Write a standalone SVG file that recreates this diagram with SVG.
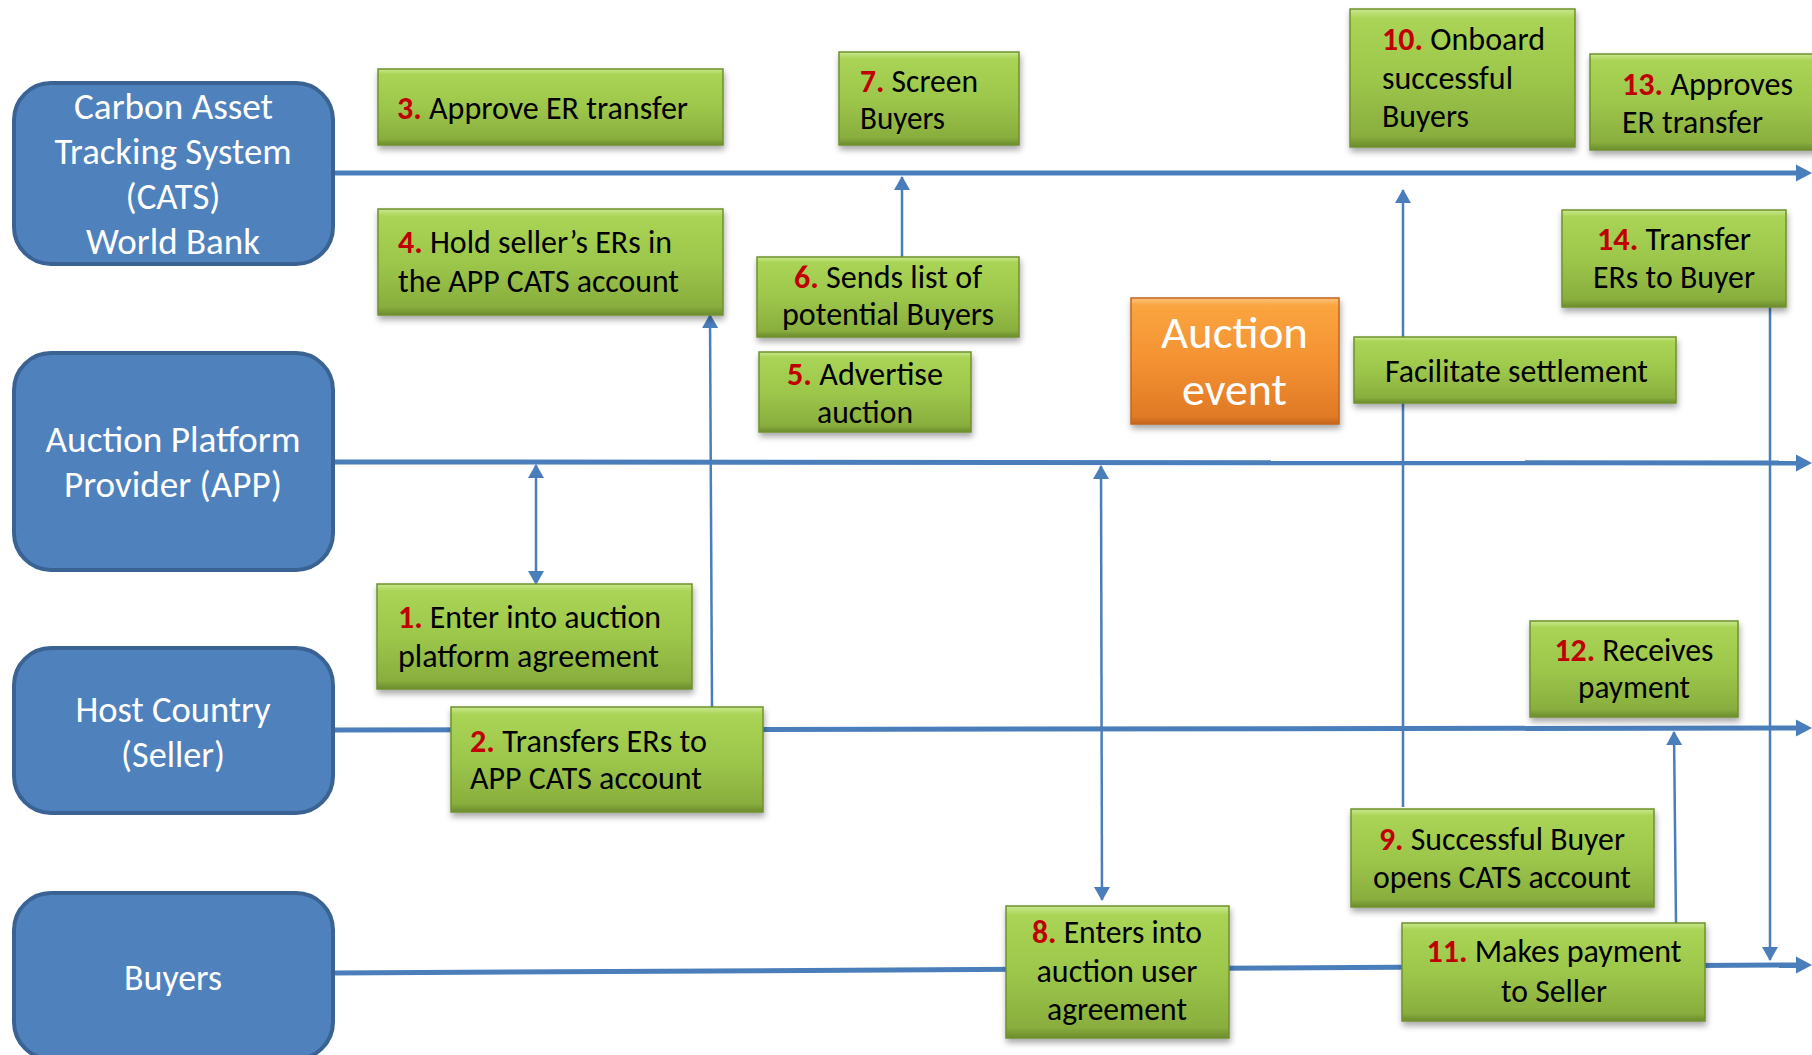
<svg xmlns="http://www.w3.org/2000/svg" width="1812" height="1055" viewBox="0 0 1812 1055">
<defs>
<style>
.lane{fill:#4F81BD;stroke:#3A6394;stroke-width:4}
.lt{font-family:Carlito,Lato,"Liberation Sans",sans-serif;font-size:36px;fill:#FFFFFF}
.gb{fill:url(#gG);stroke:#6F912E;stroke-width:1.5;filter:url(#sh)}
.ob{fill:url(#gO);stroke:#C2661E;stroke-width:1.5;filter:url(#sh)}
.t{font-family:Carlito,Lato,"Liberation Sans",sans-serif;font-size:32px;fill:#000000}
.n{fill:#C00000;font-weight:bold}
.ot{font-family:Carlito,Lato,"Liberation Sans",sans-serif;font-size:46px;fill:#FFFFFF}
.ll{stroke:#4A7EBB;stroke-width:5;fill:none;marker-end:url(#la)}
.cn{stroke:#4A7EBB;stroke-width:2.5;fill:none;marker-end:url(#ca)}
.dbl{marker-start:url(#ca)}
</style>
<linearGradient id="gG" x1="0" y1="0" x2="0" y2="1">
<stop offset="0" stop-color="#C9E88E"/>
<stop offset="0.07" stop-color="#AAD455"/>
<stop offset="0.5" stop-color="#9DC74B"/>
<stop offset="0.92" stop-color="#89AE3E"/>
<stop offset="1" stop-color="#6C8C2C"/>
</linearGradient>
<linearGradient id="gO" x1="0" y1="0" x2="0" y2="1">
<stop offset="0" stop-color="#FCC27E"/>
<stop offset="0.06" stop-color="#FAA53F"/>
<stop offset="0.5" stop-color="#F49132"/>
<stop offset="0.94" stop-color="#E07A26"/>
<stop offset="1" stop-color="#C5661C"/>
</linearGradient>
<filter id="sh" x="-10%" y="-10%" width="120%" height="135%">
<feDropShadow dx="1" dy="4" stdDeviation="3" flood-color="#000" flood-opacity="0.35"/>
</filter>
<marker id="la" markerUnits="userSpaceOnUse" markerWidth="18" markerHeight="18" viewBox="0 0 18 18" refX="4" refY="9" orient="auto">
<path d="M0,0.5 L16,9 L0,17.5 z" fill="#4A7EBB"/>
</marker>
<marker id="ca" markerUnits="userSpaceOnUse" markerWidth="16" markerHeight="16" viewBox="0 0 16 16" refX="13" refY="8" orient="auto-start-reverse">
<path d="M0,0 L14,8 L0,16 z" fill="#4A7EBB"/>
</marker>
</defs>
<rect width="1812" height="1055" fill="#FFFFFF"/>

<g id="connectors">
<line class="ll" x1="333" y1="173" x2="1800" y2="173"/>
<line class="ll" x1="333" y1="462" x2="1800" y2="463"/>
<line class="ll" x1="333" y1="730" x2="1800" y2="728"/>
<line class="ll" x1="333" y1="973" x2="1800" y2="965"/>
<line class="cn dbl" x1="536" y1="465" x2="536" y2="584"/>
<line class="cn" x1="712" y1="707" x2="710" y2="315"/>
<line class="cn" x1="902" y1="257" x2="902" y2="177"/>
<line class="cn dbl" x1="1101" y1="466" x2="1102" y2="900"/>
<line class="cn" x1="1403" y1="807" x2="1403" y2="190"/>
<line class="cn" x1="1770" y1="307" x2="1770" y2="960"/>
<line class="cn" x1="1676" y1="923" x2="1674" y2="732"/>
</g>

<g id="lane-cats">
<rect class="lane" x="14" y="83" width="319" height="181" rx="37"/>
<text class="lt" x="74" y="119" textLength="199" lengthAdjust="spacingAndGlyphs">Carbon Asset</text>
<text class="lt" x="54.5" y="164" textLength="237" lengthAdjust="spacingAndGlyphs">Tracking System</text>
<text class="lt" x="125.5" y="209" textLength="95" lengthAdjust="spacingAndGlyphs">(CATS)</text>
<text class="lt" x="86" y="254" textLength="174" lengthAdjust="spacingAndGlyphs">World Bank</text>
</g>
<g id="lane-app">
<rect class="lane" x="14" y="353" width="319" height="217" rx="37"/>
<text class="lt" x="45.5" y="452" textLength="255" lengthAdjust="spacingAndGlyphs">Auction Platform</text>
<text class="lt" x="64" y="497" textLength="218" lengthAdjust="spacingAndGlyphs">Provider (APP)</text>
</g>
<g id="lane-host">
<rect class="lane" x="14" y="648" width="319" height="165" rx="37"/>
<text class="lt" x="75.5" y="722" textLength="195" lengthAdjust="spacingAndGlyphs">Host Country</text>
<text class="lt" x="121" y="767" textLength="104" lengthAdjust="spacingAndGlyphs">(Seller)</text>
</g>
<g id="lane-buyers">
<rect class="lane" x="14" y="893" width="319" height="166" rx="37"/>
<text class="lt" x="124" y="990" textLength="98" lengthAdjust="spacingAndGlyphs">Buyers</text>
</g>

<g id="step3">
<rect class="gb" x="378" y="69" width="345" height="76"/>
<text class="t" x="397" y="119" textLength="291" lengthAdjust="spacingAndGlyphs"><tspan class="n">3.</tspan> Approve ER transfer</text>
</g>
<g id="step4">
<rect class="gb" x="378" y="209" width="345" height="106"/>
<text class="t" x="398" y="253" textLength="274" lengthAdjust="spacingAndGlyphs"><tspan class="n">4.</tspan> Hold seller’s ERs in</text>
<text class="t" x="398" y="292" textLength="281" lengthAdjust="spacingAndGlyphs">the APP CATS account</text>
</g>
<g id="step7">
<rect class="gb" x="839" y="52" width="180" height="93"/>
<text class="t" x="860" y="92" textLength="118" lengthAdjust="spacingAndGlyphs"><tspan class="n">7.</tspan> Screen</text>
<text class="t" x="860" y="129" textLength="85" lengthAdjust="spacingAndGlyphs">Buyers</text>
</g>
<g id="step10">
<rect class="gb" x="1350" y="9" width="225" height="138"/>
<text class="t" x="1382" y="50" textLength="163" lengthAdjust="spacingAndGlyphs"><tspan class="n">10.</tspan> Onboard</text>
<text class="t" x="1382" y="89" textLength="131" lengthAdjust="spacingAndGlyphs">successful</text>
<text class="t" x="1382" y="127" textLength="87" lengthAdjust="spacingAndGlyphs">Buyers</text>
</g>
<g id="step13">
<rect class="gb" x="1590" y="54" width="228" height="96"/>
<text class="t" x="1622" y="95" textLength="171" lengthAdjust="spacingAndGlyphs"><tspan class="n">13.</tspan> Approves</text>
<text class="t" x="1622" y="133" textLength="141" lengthAdjust="spacingAndGlyphs">ER transfer</text>
</g>
<g id="step6">
<rect class="gb" x="757" y="257" width="262" height="80"/>
<text class="t" x="794" y="288" textLength="188" lengthAdjust="spacingAndGlyphs"><tspan class="n">6.</tspan> Sends list of</text>
<text class="t" x="782" y="325" textLength="212" lengthAdjust="spacingAndGlyphs">potential Buyers</text>
</g>
<g id="step5">
<rect class="gb" x="759" y="352" width="212" height="80"/>
<text class="t" x="787" y="385" textLength="156" lengthAdjust="spacingAndGlyphs"><tspan class="n">5.</tspan> Advertise</text>
<text class="t" x="817" y="423" textLength="96" lengthAdjust="spacingAndGlyphs">auction</text>
</g>
<g id="auction-event">
<rect class="ob" x="1131" y="298" width="208" height="126"/>
<text class="ot" x="1161" y="348" textLength="147" lengthAdjust="spacingAndGlyphs">Auction</text>
<text class="ot" x="1182" y="405" textLength="105" lengthAdjust="spacingAndGlyphs">event</text>
</g>
<g id="facilitate-settlement">
<rect class="gb" x="1354" y="337" width="322" height="66"/>
<text class="t" x="1385" y="382" textLength="263" lengthAdjust="spacingAndGlyphs">Facilitate settlement</text>
</g>
<g id="step14">
<rect class="gb" x="1562" y="210" width="224" height="97"/>
<text class="t" x="1597" y="250" textLength="154" lengthAdjust="spacingAndGlyphs"><tspan class="n">14.</tspan> Transfer</text>
<text class="t" x="1593" y="288" textLength="162" lengthAdjust="spacingAndGlyphs">ERs to Buyer</text>
</g>
<g id="step1">
<rect class="gb" x="377" y="584" width="315" height="105"/>
<text class="t" x="398" y="628" textLength="263" lengthAdjust="spacingAndGlyphs"><tspan class="n">1.</tspan> Enter into auction</text>
<text class="t" x="398" y="667" textLength="261" lengthAdjust="spacingAndGlyphs">platform agreement</text>
</g>
<g id="step2">
<rect class="gb" x="451" y="707" width="312" height="105"/>
<text class="t" x="470" y="752" textLength="237" lengthAdjust="spacingAndGlyphs"><tspan class="n">2.</tspan> Transfers ERs to</text>
<text class="t" x="470" y="789" textLength="232" lengthAdjust="spacingAndGlyphs">APP CATS account</text>
</g>
<g id="step12">
<rect class="gb" x="1530" y="621" width="208" height="96"/>
<text class="t" x="1554.5" y="661" textLength="159" lengthAdjust="spacingAndGlyphs"><tspan class="n">12.</tspan> Receives</text>
<text class="t" x="1578" y="698" textLength="112" lengthAdjust="spacingAndGlyphs">payment</text>
</g>
<g id="step9">
<rect class="gb" x="1351" y="809" width="303" height="98"/>
<text class="t" x="1379" y="850" textLength="246" lengthAdjust="spacingAndGlyphs"><tspan class="n">9.</tspan> Successful Buyer</text>
<text class="t" x="1373" y="888" textLength="258" lengthAdjust="spacingAndGlyphs">opens CATS account</text>
</g>
<g id="step8">
<rect class="gb" x="1006" y="906" width="223" height="132"/>
<text class="t" x="1032" y="943" textLength="170" lengthAdjust="spacingAndGlyphs"><tspan class="n">8.</tspan> Enters into</text>
<text class="t" x="1036.5" y="982" textLength="161" lengthAdjust="spacingAndGlyphs">auction user</text>
<text class="t" x="1047" y="1020" textLength="140" lengthAdjust="spacingAndGlyphs">agreement</text>
</g>
<g id="step11">
<rect class="gb" x="1402" y="923" width="303" height="98"/>
<text class="t" x="1426.5" y="962" textLength="255" lengthAdjust="spacingAndGlyphs"><tspan class="n">11.</tspan> Makes payment</text>
<text class="t" x="1501" y="1002" textLength="106" lengthAdjust="spacingAndGlyphs">to Seller</text>
</g>
</svg>
